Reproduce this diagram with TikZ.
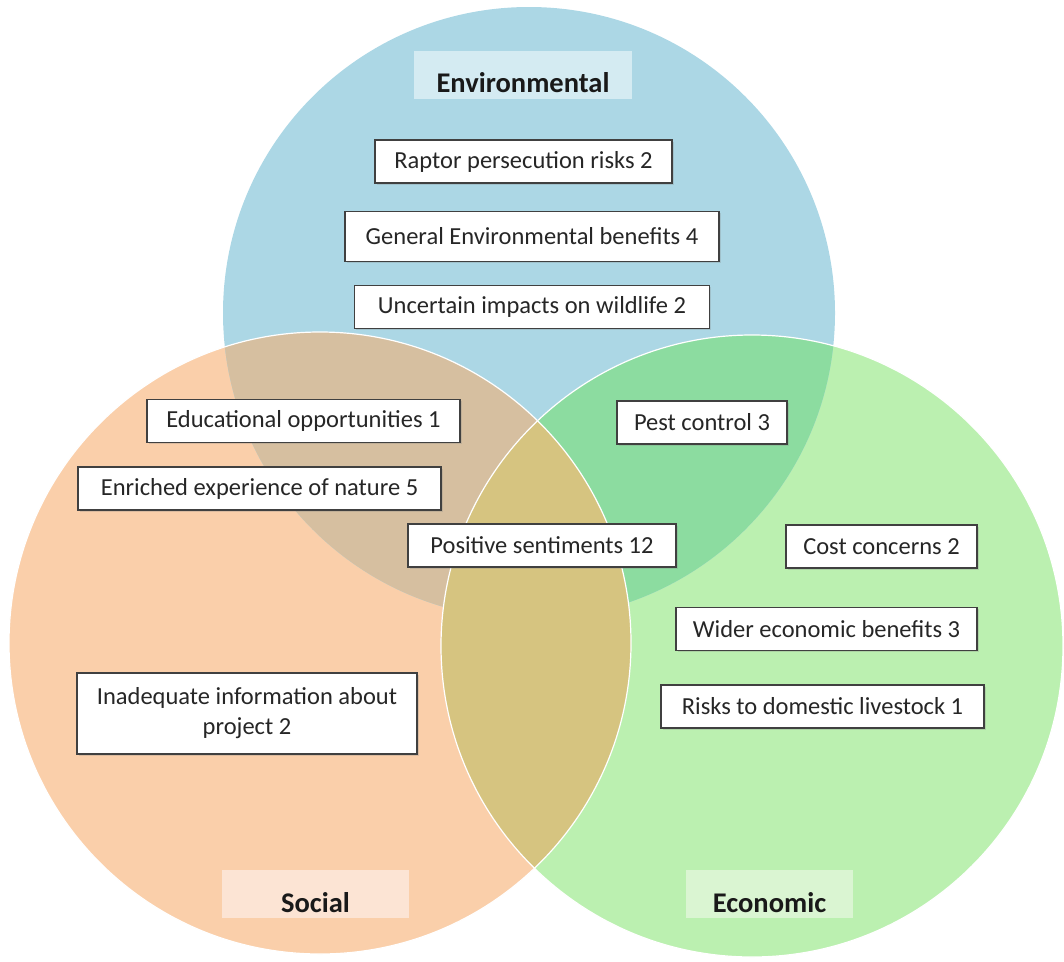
\documentclass[tikz,border=0pt]{standalone}
\usepackage{fontspec}
\setmainfont{Carlito}
\usetikzlibrary{positioning}
\usetikzlibrary{shadows}
\definecolor{envblue}{RGB}{172,215,229}
\definecolor{socpeach}{RGB}{250,207,170}
\definecolor{ecogreen}{RGB}{187,240,176}
\definecolor{envsoc}{RGB}{214,191,160}
\definecolor{enveco}{RGB}{140,220,160}
\definecolor{soceco}{RGB}{214,196,128}
\definecolor{envhead}{RGB}{212,235,242}
\definecolor{sochead}{RGB}{252,228,212}
\definecolor{ecohead}{RGB}{218,245,210}
\tikzset{
    x=1pt, y=-1pt,
    node distance=25pt,
    fact/.style={
        draw=black!75,
        line width=1.1pt,
        fill=white,
        inner xsep=12pt,
        minimum height=43pt,
        font=\fontsize{24.5}{30}\selectfont,
        text=black!85,
        drop shadow={shadow xshift=1.5pt, shadow yshift=-1.5pt, opacity=.25}
    },
    heading/.style={
        inner ysep=0pt,
        text height=42pt,
        text depth=6pt,
        font=\fontsize{28.5}{32}\selectfont\bfseries,
        text=black!90
    }
}

\begin{document}
\begin{tikzpicture}
    \useasboundingbox (0,0) rectangle (1064,961);

    % the three sets
    \coordinate (env) at (529,313);
    \coordinate (soc) at (320,643);
    \coordinate (eco) at (752,646);

    \fill[socpeach] (soc) circle (311pt);
    \fill[ecogreen] (eco) circle (311pt);
    \fill[envblue] (env) circle (306pt);
    \begin{scope}
        \clip (env) circle (306pt);
        \fill[envsoc] (soc) circle (311pt);
        \fill[enveco] (eco) circle (311pt);
    \end{scope}
    \begin{scope}
        \clip (soc) circle (311pt);
        \fill[soceco] (eco) circle (311pt);
    \end{scope}
    \draw[white, line width=1.2pt] (soc) circle (311pt);
    \draw[white, line width=1.2pt] (eco) circle (311pt);

    % headings
    \node[heading, fill=envhead, minimum width=218pt] (envlabel) at (523,74.5) {Environmental};
    \node[heading, fill=sochead, minimum width=187pt] (soclabel) at (315.5,894) {Social};
    \node[heading, fill=ecohead, minimum width=167pt] (ecolabel) at (769.5,894) {Economic};

    % environmental
    \node[fact, minimum width=297pt] (raptor) at (523.5,161.5) {Raptor persecution risks 2};
    \node[fact, minimum width=374pt, minimum height=50pt, below=27pt of raptor, xshift=8.5pt] (envben) {General Environmental benefits 4};
    \node[fact, minimum width=355pt, below=23pt of envben] (wildlife) {Uncertain impacts on wildlife 2};

    % social
    \node[fact, minimum width=313pt] (educ) at (303.5,421) {Educational opportunities 1};
    \node[fact, minimum width=363pt] (nature) at (259.5,488.5) {Enriched experience of nature 5};
    \node[fact, align=center, minimum width=340pt, minimum height=81pt] (info) at (247,713.5)
        {Inadequate information about\\project 2};

    % overlaps
    \node[fact, minimum width=268pt] (positive) at (542,545.5) {Positive sentiments 12};
    \node[fact, minimum width=170pt] (pest) at (702,422.5) {Pest control 3};

    % economic
    \node[fact, minimum width=191pt] (cost) at (881.5,546.5) {Cost concerns 2};
    \node[fact, minimum width=301pt, below=38pt of cost.south east, anchor=north east] (wider) {Wider economic benefits 3};
    \node[fact, minimum width=323pt] (livestock) at (822.5,706.5) {Risks to domestic livestock 1};
\end{tikzpicture}
\end{document}
